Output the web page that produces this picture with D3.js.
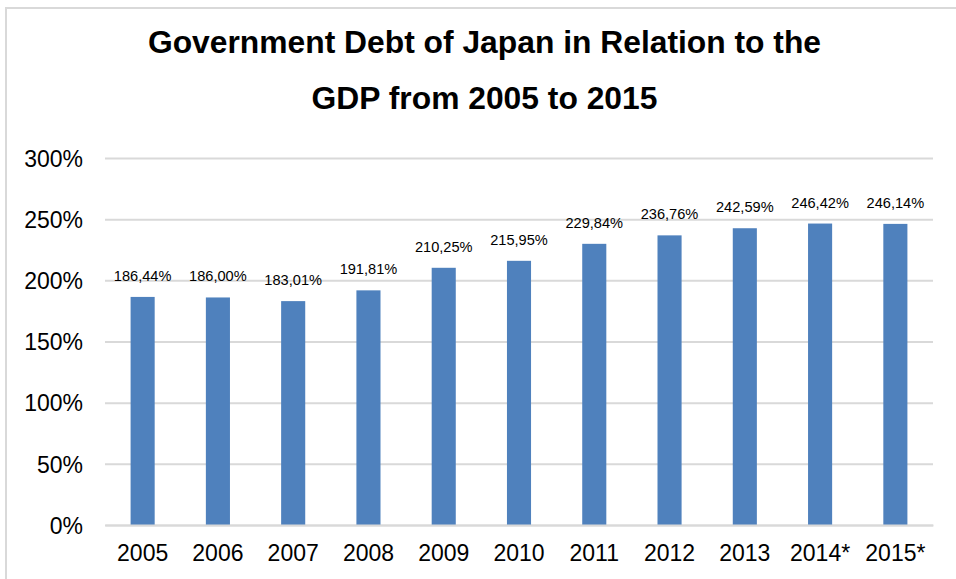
<!DOCTYPE html>
<html>
<head>
<meta charset="utf-8">
<script src="https://cdn.jsdelivr.net/npm/d3@7/dist/d3.min.js"></script>
<style>
  html, body { margin: 0; padding: 0; background: #fff; }
  svg { display: block; font-family: "Liberation Sans", Arial, sans-serif; }
</style>
</head>
<body>
<svg id="chart" width="956" height="579"></svg>
<script>
// Government debt of Japan as a share of GDP (percent)
const years = ["2005", "2006", "2007", "2008", "2009", "2010", "2011", "2012", "2013", "2014*", "2015*"];
const debtRatio = [186.44, 186.00, 183.01, 191.81, 210.25, 215.95, 229.84, 236.76, 242.59, 246.42, 246.14];
const yTicks = [0, 50, 100, 150, 200, 250, 300];
const titleLines = ["Government Debt of Japan in Relation to the", "GDP from 2005 to 2015"];

const svg = d3.select("#chart");
const W = 956, H = 579;
const plot = { left: 105, right: 933, top: 158, bottom: 525 };

// chart area frame
svg.append("rect")
  .attr("x", 6).attr("y", 8)
  .attr("width", W + 20).attr("height", H + 20)
  .attr("fill", "#fff")
  .attr("stroke", "#d9d9d9")
  .attr("stroke-width", 2);

// title
svg.append("g")
  .selectAll("text")
  .data(titleLines)
  .join("text")
  .attr("x", 484.5)
  .attr("y", (d, i) => 53 + i * 56)
  .attr("text-anchor", "middle")
  .attr("font-size", "31.8px")
  .attr("font-weight", "bold")
  .attr("fill", "#000")
  .text(d => d);

const x = d3.scaleBand()
  .domain(years)
  .range([plot.left, plot.right])
  .paddingInner(0.68)
  .paddingOuter(0.34);

const y = d3.scaleLinear()
  .domain([0, 300])
  .range([plot.bottom, plot.top]);

// horizontal gridlines and y labels
const yAxis = d3.axisLeft(y)
  .tickValues(yTicks)
  .tickSize(-(plot.right - plot.left))
  .tickPadding(22)
  .tickFormat(d => d + "%");

const gy = svg.append("g")
  .attr("transform", `translate(${plot.left},0)`)
  .call(yAxis);
gy.select(".domain").remove();
gy.selectAll(".tick line")
  .attr("stroke", "#d9d9d9")
  .attr("stroke-width", 2);
gy.selectAll(".tick text")
  .attr("font-size", "23px")
  .attr("font-family", "Liberation Sans, Arial, sans-serif")
  .attr("fill", "#000")
  .attr("dy", "0.36em");

// bars
svg.append("g")
  .selectAll("rect")
  .data(years.map((yr, i) => ({ yr, v: debtRatio[i] })))
  .join("rect")
  .attr("x", d => x(d.yr))
  .attr("y", d => y(d.v))
  .attr("width", x.bandwidth())
  .attr("height", d => y(0) - y(d.v))
  .attr("fill", "#4f81bd");

// value labels
svg.append("g")
  .selectAll("text")
  .data(years.map((yr, i) => ({ yr, v: debtRatio[i] })))
  .join("text")
  .attr("x", d => x(d.yr) + x.bandwidth() / 2)
  .attr("y", d => y(d.v) - 16)
  .attr("text-anchor", "middle")
  .attr("font-size", "14.6px")
  .attr("fill", "#000")
  .text(d => d.v.toFixed(2).replace(".", ",") + "%");

// category axis
const xAxis = d3.axisBottom(x).tickSize(0).tickPadding(20);
const gx = svg.append("g")
  .attr("transform", `translate(0,${plot.bottom})`)
  .call(xAxis);
gx.select(".domain")
  .attr("stroke", "#d9d9d9")
  .attr("stroke-width", 2);
gx.selectAll(".tick text")
  .attr("font-size", "23px")
  .attr("font-family", "Liberation Sans, Arial, sans-serif")
  .attr("fill", "#000")
  .attr("dy", "0.71em");
</script>
</body>
</html>
